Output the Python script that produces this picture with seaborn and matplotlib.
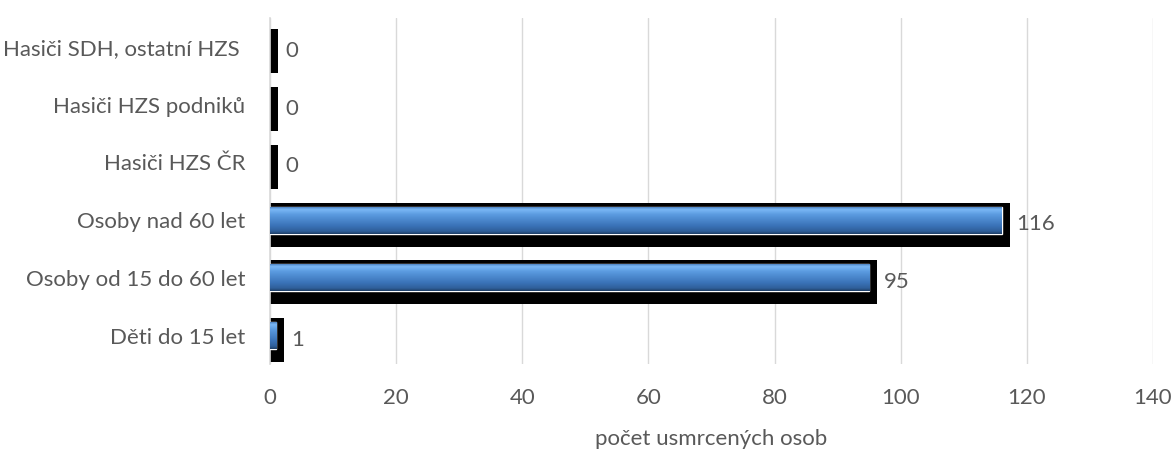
import matplotlib
matplotlib.use("Agg")
import matplotlib.pyplot as plt
import seaborn as sns
import numpy as np
import pandas as pd
from matplotlib.patches import Rectangle
from matplotlib.colors import LinearSegmentedColormap

categories = ["Hasiči SDH, ostatní HZS ", "Hasiči HZS podniků", "Hasiči HZS ČR",
              "Osoby nad 60 let", "Osoby od 15 do 60 let", "Děti do 15 let"]
values = [0, 0, 0, 116, 95, 1]
xticks = [0, 20, 40, 60, 80, 100, 120, 140]
xlabel = "počet usmrcených osob"

sns.set_theme(style="white")
plt.rcParams['font.family'] = ['Lato', 'DejaVu Sans']
text_color = "#595959"
fs = 16

df = pd.DataFrame({"cat": categories, "val": values})

fig = plt.figure(figsize=(11.74, 4.51), dpi=100)
ax = fig.add_axes([0.23, 0.192, 0.752, 0.768])

sns.barplot(data=df, y="cat", x="val", orient="h", color="#3f7fcf",
            width=0.47, ax=ax, zorder=3)

ax.set_xlim(0, 140)
ax.set_ylim(5.5, -0.5)
ax.set_xticks(xticks)
ax.grid(axis="x", color="#d9d9d9", linewidth=1, zorder=0)
ax.set_axisbelow(True)
for s in ["top", "right", "bottom"]:
    ax.spines[s].set_visible(False)
ax.spines["left"].set_color("#d9d9d9")
ax.spines["left"].set_linewidth(1.2)
ax.tick_params(axis="both", length=0, colors=text_color, labelsize=fs)
ax.tick_params(axis="x", pad=17)
ax.tick_params(axis="y", pad=18)
ax.set_ylabel("")
ax.set_xlabel(xlabel, color=text_color, fontsize=fs, labelpad=15)

px_per_unit = (ax.transData.transform((1, 0))[0] - ax.transData.transform((0, 0))[0])
row_px = abs(ax.transData.transform((0, 1))[1] - ax.transData.transform((0, 0))[1])
shadow_dx = 8 / px_per_unit

grad = np.linspace(0, 1, 256).reshape(-1, 1)
cmap = LinearSegmentedColormap.from_list("bev", [
    (0.0, "#3a6cab"), (0.12, "#7ab8f5"), (0.3, "#5b9be0"),
    (0.7, "#3a73b8"), (0.9, "#2f5f9a"), (1.0, "#1f3f66")])

bars = ax.containers[0]
for p in bars.patches:
    x0, y0 = p.get_x(), p.get_y()
    w, h = p.get_width(), p.get_height()
    sh_top = y0 - 4 / row_px
    sh_bot = y0 + h + 13 / row_px
    ax.add_patch(Rectangle((x0, sh_top), w + shadow_dx, sh_bot - sh_top,
                           facecolor="black", edgecolor="none", zorder=2))
    if w > 0:
        im = ax.imshow(grad, extent=(x0, x0 + w, y0 + h, y0), cmap=cmap,
                       aspect="auto", zorder=4, interpolation="bilinear")
        im.set_clip_path(p)
    else:
        p.set_visible(False)

ax.set_xlim(0, 140)
ax.set_ylim(5.5, -0.5)

for p, v in zip(bars.patches, values):
    ax.text(p.get_x() + p.get_width() + shadow_dx + 1.1, p.get_y() + p.get_height() / 2 + 4 / row_px,
            f"{v}", va="center", ha="left", color=text_color, fontsize=fs, zorder=5)

fig.savefig("out.png", dpi=100)
